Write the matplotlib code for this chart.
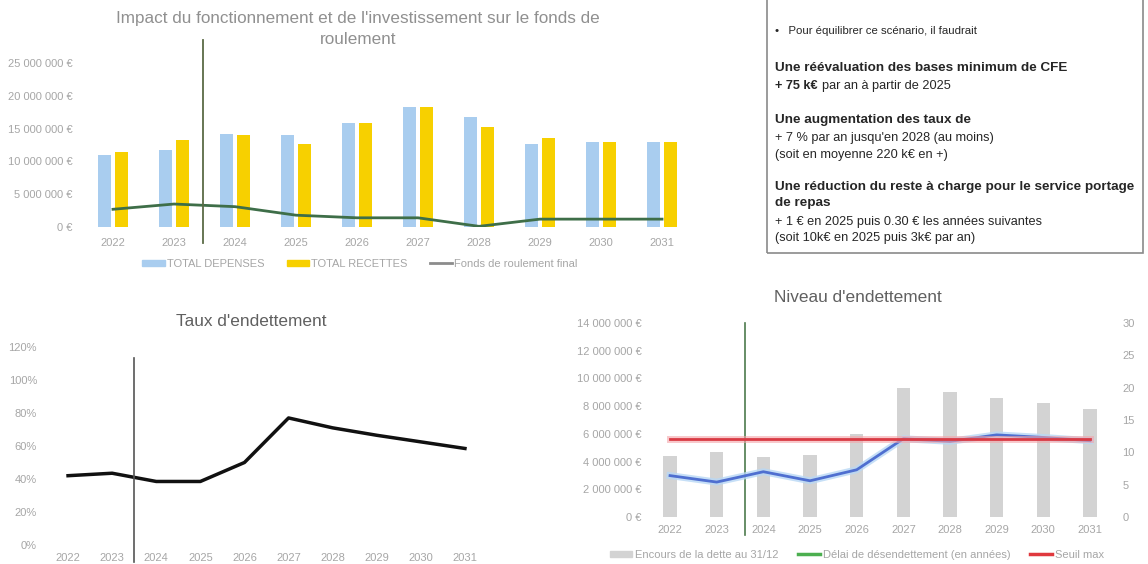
import numpy as np
import matplotlib.pyplot as plt
from matplotlib.patches import Rectangle, Patch
from matplotlib.lines import Line2D
from matplotlib.ticker import FuncFormatter

plt.rcParams['font.family'] = ['Liberation Sans', 'DejaVu Sans']

# Données
annees = ['2022', '2023', '2024', '2025', '2026', '2027', '2028', '2029', '2030', '2031']
total_depenses = [10.9e6, 11.7e6, 14.2e6, 14.1e6, 15.9e6, 18.3e6, 16.7e6, 12.6e6, 12.9e6, 12.9e6]
total_recettes = [11.4e6, 13.3e6, 14.1e6, 12.7e6, 15.8e6, 18.3e6, 15.3e6, 13.6e6, 12.9e6, 13.0e6]
fonds_roulement = [2.7e6, 3.5e6, 3.1e6, 1.8e6, 1.4e6, 1.4e6, 0.1e6, 1.2e6, 1.2e6, 1.2e6]

taux_endettement = [0.42, 0.435, 0.385, 0.385, 0.50, 0.77, 0.71, 0.665, 0.625, 0.585]

encours_dette = [4.4e6, 4.7e6, 4.3e6, 4.5e6, 6.0e6, 9.3e6, 9.0e6, 8.6e6, 8.2e6, 7.8e6]
delai_desendettement = [6.4, 5.4, 7.0, 5.6, 7.3, 12.1, 11.7, 12.7, 12.3, 11.8]
seuil_max = [12] * len(annees)

x = np.arange(len(annees))
gris_txt = '#a6a6a6'


def euros(v, pos):
    return f"{int(v):,} €".replace(',', ' ')


fig = plt.figure(figsize=(11.48, 5.64), dpi=100)
W, H = 1148, 564

# --- Fonds de roulement ---
ax1 = fig.add_axes([82.5 / W, 1 - 227 / H, 610 / W, 164 / H])
ax1.bar(x - 0.14, total_depenses, width=0.21, color='#a9cdef', label='TOTAL DEPENSES')
ax1.bar(x + 0.14, total_recettes, width=0.21, color='#f7d000', label='TOTAL RECETTES')
ax1.plot(x, fonds_roulement, color='#3e6e48', lw=2, label='Fonds de roulement final')
ax1.axvline(1.48, ymin=-0.1, ymax=1.14, color='#5b6b45', lw=1.3, clip_on=False)
ax1.set_xlim(-0.5, 9.5)
ax1.set_ylim(0, 25e6)
ax1.set_yticks(np.arange(0, 25e6 + 1, 5e6))
ax1.yaxis.set_major_formatter(FuncFormatter(euros))
ax1.set_xticks(x, annees)
for s in ax1.spines.values():
    s.set_visible(False)
ax1.tick_params(length=0, labelsize=8, labelcolor=gris_txt, pad=7)
ax1.tick_params(axis='x', pad=8)
fig.text(358 / W, 1 - 18 / H, "Impact du fonctionnement et de l'investissement sur le fonds de",
         ha='center', va='center', fontsize=12.3, color='#909090')
fig.text(358 / W, 1 - 40 / H, "roulement", ha='center', va='center', fontsize=12.3, color='#909090')
fig.legend(handles=[Patch(color='#a9cdef', label='TOTAL DEPENSES'),
                    Patch(color='#f7d000', label='TOTAL RECETTES'),
                    Line2D([], [], color='#8c8c8c', lw=2, label='Fonds de roulement final')],
           loc='center', bbox_to_anchor=(360 / W, 1 - 264 / H), ncol=3, frameon=False,
           fontsize=8, labelcolor=gris_txt, handlelength=2.0, handleheight=0.5,
           columnspacing=2.0, handletextpad=0.2)

# --- Encadré ---
fig.patches.append(Rectangle((767 / W, 1 - 253 / H), 376 / W, 260 / H, transform=fig.transFigure,
                             fill=False, edgecolor='#8a8a8a', lw=1.2))
tx = 775 / W
fig.text(tx, 1 - 31 / H, "•   Pour équilibrer ce scénario, il faudrait", ha='left', va='center',
         fontsize=8.2, color='#262626')
lignes = [
    (68, "Une réévaluation des bases minimum de CFE", 'bold'),
    (120, "Une augmentation des taux de", 'bold'),
    (138, "+ 7 % par an jusqu'en 2028 (au moins)", 'normal'),
    (155, "(soit en moyenne 220 k€ en +)", 'normal'),
    (187, "Une réduction du reste à charge pour le service portage", 'bold'),
    (203, "de repas", 'bold'),
    (222, "+ 1 € en 2025 puis 0.30 € les années suivantes", 'normal'),
    (238, "(soit 10k€ en 2025 puis 3k€ par an)", 'normal'),
]
for y, t, w in lignes:
    fig.text(tx, 1 - y / H, t, ha='left', va='center', fontsize=9.2 if w == 'normal' else 9.7,
             fontweight=w, color='#262626')
t75 = fig.text(tx, 1 - 86 / H, "+ 75 k€", ha='left', va='center', fontsize=9.2,
               fontweight='bold', color='#262626')
ax1.annotate("par an à partir de 2025", xy=(1, 0.5), xycoords=t75, xytext=(3, 0),
             textcoords='offset points', ha='left', va='center', fontsize=9.2,
             color='#262626', annotation_clip=False)

# --- Taux d'endettement ---
ax2 = fig.add_axes([46 / W, 1 - 545 / H, 441 / W, 198 / H])
ax2.plot(x, taux_endettement, color='#111111', lw=2.5)
ax2.axvline(1.5, ymin=-0.086, ymax=0.944, color='#555555', lw=1.2, clip_on=False)
ax2.set_xlim(-0.5, 9.5)
ax2.set_ylim(0, 1.2)
ax2.set_yticks(np.arange(0, 1.21, 0.2))
ax2.yaxis.set_major_formatter(FuncFormatter(lambda v, p: f"{v * 100:.0f}%"))
ax2.set_xticks(x, annees)
for s in ax2.spines.values():
    s.set_visible(False)
ax2.tick_params(length=0, labelsize=8, labelcolor=gris_txt, pad=6.5)
ax2.tick_params(axis='x', pad=6)
fig.text(251 / W, 1 - 322 / H, "Taux d'endettement", ha='center', va='center', fontsize=12.4, color='#606060')

# --- Niveau d'endettement ---
ax3 = fig.add_axes([646.7 / W, 1 - 517 / H, 466.6 / W, 194 / H])
ax3.bar(x, encours_dette, width=0.28, color='#d3d3d3')
ax3.axvline(1.6, ymin=-0.093, ymax=1.0, color='#4d7a4d', lw=1.2, clip_on=False)
ax3.set_xlim(-0.5, 9.5)
ax3.set_ylim(0, 14e6)
ax3.set_yticks(np.arange(0, 14e6 + 1, 2e6))
ax3.yaxis.set_major_formatter(FuncFormatter(euros))
ax3.set_xticks(x, annees)
ax3.tick_params(length=0, labelsize=8, labelcolor=gris_txt, pad=3.4)
ax3.tick_params(axis='x', pad=6)
ax4 = ax3.twinx()
ax4.plot(x, delai_desendettement, color='#b8d8f5', lw=5, alpha=0.8)
ax4.plot(x, delai_desendettement, color='#4f6fd0', lw=2)
ax4.plot(x, seuil_max, color='#f4a3a8', lw=5, alpha=0.6)
ax4.plot(x, seuil_max, color='#d93a44', lw=2)
ax4.set_ylim(0, 30)
ax4.set_yticks(np.arange(0, 31, 5))
ax4.tick_params(length=0, labelsize=8, labelcolor=gris_txt, pad=6.5)
for a in (ax3, ax4):
    for s in a.spines.values():
        s.set_visible(False)
fig.text(858 / W, 1 - 298 / H, "Niveau d'endettement", ha='center', va='center', fontsize=12.4, color='#606060')
fig.legend(handles=[Patch(color='#d3d3d3', label='Encours de la dette au 31/12'),
                    Line2D([], [], color='#4caf50', lw=2.5, label='Délai de désendettement (en années)'),
                    Line2D([], [], color='#e0393e', lw=2.5, label='Seuil max')],
           loc='center', bbox_to_anchor=(857 / W, 1 - 555 / H), ncol=3, frameon=False,
           fontsize=8, labelcolor=gris_txt, handlelength=2.0, handleheight=0.5,
           columnspacing=1.8, handletextpad=0.2)

fig.savefig('out.png', dpi=100)
